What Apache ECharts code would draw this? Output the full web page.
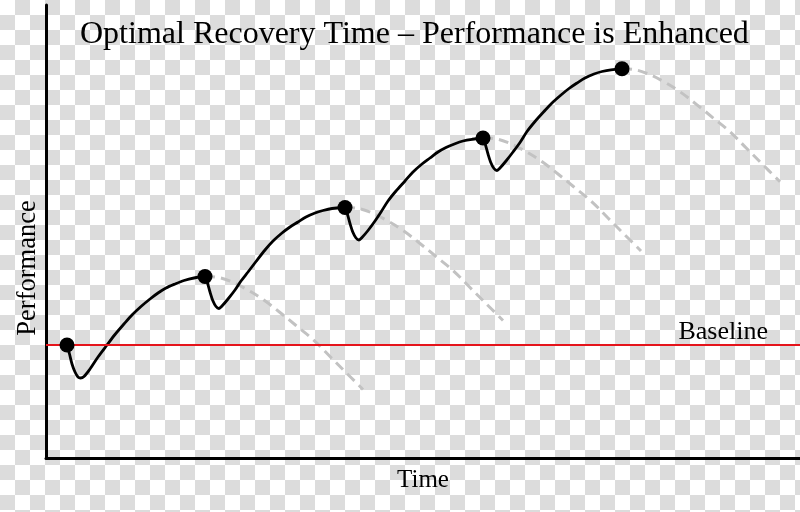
<!DOCTYPE html>
<html>
<head>
<meta charset="utf-8">
<script src="https://cdn.jsdelivr.net/npm/echarts@6/dist/echarts.min.js"></script>
<style>
  html, body { margin: 0; padding: 0; }
  #chart {
    width: 800px; height: 512px;
    background-color: #ffffff;
    background-image: conic-gradient(#dcdcdc 0 25%, #ffffff 0 50%, #dcdcdc 0 75%, #ffffff 0);
    background-size: 30px 30px;
  }
</style>
</head>
<body>
<div id="chart"></div>
<script>
// Arbitrary units: time on x, performance on y
const titleText = 'Optimal Recovery Time \u2013 Performance is Enhanced';
const xName = 'Time';
const yName = 'Performance';
const baselineLabel = 'Baseline';
const baselineValue = 113;

// Main performance curve (training + recovery cycles)
const performance = [
  [21,113],[23.5,104],[26,94],[29,86],[32,81],[34.5,80],[38,81.5],[44,89],[52,101],[61,113],
  [69,123.5],[78,134],[86,143],[95,151.5],[104,159],[112,165],[120,170],[129,174],[138,177.5],[148,180],[159,181.5],
  [161.5,175],[164,166],[167,157],[170,151.5],[173,149.5],[176,152],[182,159],[189,168],[195,177],[202,186],
  [210,196.5],[219,208],[227,217],[236,225],[244,231],[252,236],[260,241],[269,245],[277,247.5],[286,249.5],[299,250.5],
  [301.5,243.5],[304,234.5],[307,225.5],[310,220],[313,218],[316,220.5],[322,227.5],[329,237],[335,246],[342,257],
  [350,267],[359,277],[367,286],[376,294],[384,300],[392,306],[400,310.5],[409,314.3],[417,317],[426,318.7],[437,320],
  [439.5,313],[442,304],[445,295],[448,289.5],[451,287.5],[454,290],[460,297],[467,306],[474,315.5],[481,326.5],
  [489,336.5],[498,346.5],[506,355],[515,363],[523,369.5],[531,375],[539,380],[548,384],[556,386.5],[565,388.2],[576,389.2]
];

// Session points (markers)
const sessions = [[21,113],[159,181.5],[299,250.5],[437,320],[576,389.2]];

// Detraining curves (what happens without the next session)
const decline1 = [[159,181.5],[169,181],[185,176.5],[201,168.5],[217,158.5],[234,145.5],[250,132.5],[267,118.5],[284,101.5],[300,85.5],[317,68.5]];
const decline2 = [[299,250.5],[309,250],[325,245.5],[341,237.5],[357,227.5],[374,214.5],[390,201.5],[407,187.5],[424,170.5],[440,154.5],[457,137.5]];
const decline3 = [[437,320],[447,319.5],[463,315],[479,307],[495,297],[512,284],[528,271],[545,257],[562,240],[578,224],[595,207]];
const decline4 = [[576,389.2],[586,388.7],[602,384.2],[618,376.2],[634,366.2],[651,353.2],[667,340.2],[684,326.2],[701,309.2],[717,293.2],[734,276.2]];

const serif = "'Liberation Serif', 'Times New Roman', 'DejaVu Serif', serif";

function dashed(data) {
  return {
    type: 'line', data: data, smooth: 0.4, showSymbol: false, symbol: 'none',
    lineStyle: { color: '#c2c2c2', width: 3, type: [10, 6] }, z: 2, silent: true
  };
}

const chart = echarts.init(document.getElementById('chart'), null, { renderer: 'canvas' });
chart.setOption({
  animation: false,
  backgroundColor: 'transparent',
  title: {
    text: titleText, left: 75, top: 14,
    textStyle: { fontFamily: serif, fontSize: 32, fontWeight: 'normal', color: '#000' }
  },
  graphic: [{
    type: 'text', x: 28, y: 268, rotation: Math.PI / 2, silent: true,
    style: {
      text: yName, font: "26.5px " + serif, fill: '#000',
      align: 'center', verticalAlign: 'middle'
    }
  }],
  grid: { left: 46, right: 0, top: 5, bottom: 54 },
  xAxis: {
    type: 'value', min: 0, max: 754,
    name: xName, nameLocation: 'middle', nameGap: 10,
    nameTextStyle: { fontFamily: serif, fontSize: 25, color: '#000' },
    axisLine: { show: true, onZero: false, lineStyle: { color: '#000', width: 3 } },
    axisTick: { show: false }, axisLabel: { show: false }, splitLine: { show: false }
  },
  yAxis: {
    type: 'value', min: 0, max: 453,
    axisLine: { show: true, onZero: false, lineStyle: { color: '#000', width: 3 } },
    axisTick: { show: false }, axisLabel: { show: false }, splitLine: { show: false }
  },
  series: [
    dashed(decline1), dashed(decline2), dashed(decline3), dashed(decline4),
    {
      type: 'line', data: [], silent: true, z: 3,
      markLine: {
        silent: true, symbol: ['none', 'none'],
        lineStyle: { color: '#e5141b', width: 2, type: 'solid' },
        label: {
          show: true, position: 'insideEndTop', formatter: baselineLabel,
          fontFamily: serif, fontSize: 26, color: '#000', distance: [32, 0]
        },
        data: [{ yAxis: baselineValue }]
      }
    },
    {
      type: 'line', data: performance, smooth: 0.3, showSymbol: false, symbol: 'none',
      lineStyle: { color: '#000', width: 2.8 }, z: 4, silent: true
    },
    {
      type: 'scatter', data: sessions, symbol: 'circle', symbolSize: 15,
      itemStyle: { color: '#000', opacity: 1 }, z: 5, silent: true
    }
  ]
});
</script>
</body>
</html>
